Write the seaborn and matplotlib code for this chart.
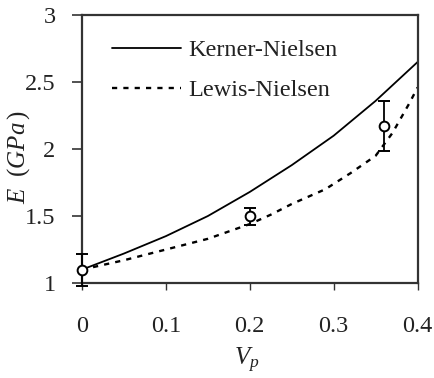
import matplotlib
matplotlib.use("Agg")
import matplotlib.pyplot as plt
import seaborn as sns
import numpy as np
import pandas as pd
from matplotlib.ticker import FixedLocator, FuncFormatter

# ---- data ----
vp_kn = [0.0, 0.05, 0.1, 0.15, 0.2, 0.25, 0.3, 0.35, 0.4]
e_kn = [1.10, 1.22, 1.35, 1.50, 1.68, 1.88, 2.10, 2.36, 2.65]

vp_ln = [0.0, 0.05, 0.1, 0.15, 0.2, 0.225, 0.25, 0.29, 0.32, 0.35, 0.37, 0.39, 0.4]
e_ln = [1.10, 1.17, 1.25, 1.33, 1.44, 1.51, 1.59, 1.70, 1.82, 1.95, 2.12, 2.34, 2.46]

vp_exp = [0.0, 0.2, 0.36]
e_exp = [1.10, 1.50, 2.17]
err_low = [0.12, 0.065, 0.185]
err_high = [0.12, 0.06, 0.19]

xticks = [0, 0.1, 0.2, 0.3, 0.4]
yticks = [1, 1.5, 2, 2.5, 3]

sns.set_style("ticks")
plt.rcParams['font.family'] = ['Liberation Serif', 'DejaVu Serif']
plt.rcParams['mathtext.fontset'] = 'custom'
plt.rcParams['mathtext.it'] = 'Liberation Serif:italic'
plt.rcParams['mathtext.rm'] = 'Liberation Serif'

fig = plt.figure(figsize=(4.35, 3.78), dpi=100)
ax = fig.add_axes([0.1885, 0.2513, 0.7715, 0.7087])

df_kn = pd.DataFrame({"Vp": vp_kn, "E": e_kn})
df_ln = pd.DataFrame({"Vp": vp_ln, "E": e_ln})

sns.lineplot(data=df_kn, x="Vp", y="E", ax=ax, color="black", lw=1.3,
             label="Kerner-Nielsen")
sns.lineplot(data=df_ln, x="Vp", y="E", ax=ax, color="black", lw=1.7,
             linestyle=(0, (2.2, 2.6)), label="Lewis-Nielsen")

ax.errorbar(vp_exp, e_exp, yerr=[err_low, err_high], fmt='o', mfc='white',
            mec='black', ms=7, mew=1.4, ecolor='black', elinewidth=1.3,
            capsize=4.3, capthick=1.3, clip_on=False, zorder=5)

ax.set_xlim(0, 0.4)
ax.set_ylim(1, 3)
ax.xaxis.set_major_locator(FixedLocator(xticks))
ax.yaxis.set_major_locator(FixedLocator(yticks))
fmt = FuncFormatter(lambda v, p: f"{v:g}")
ax.xaxis.set_major_formatter(fmt)
ax.yaxis.set_major_formatter(fmt)

ax.tick_params(axis='x', direction='out', length=5, width=1, pad=19,
               labelsize=17.5, colors='#333333', labelcolor='#222222')
ax.tick_params(axis='y', direction='out', length=7, width=1.2, pad=12,
               labelsize=17.5, colors='#333333', labelcolor='#222222')
for s in ax.spines.values():
    s.set_visible(True)
    s.set_linewidth(1.6)
    s.set_color('#333333')

ax.set_xlabel("$V_p$", fontsize=18, color='#222222')
ax.set_ylabel("$E\\ \\ (GPa\\,)$", fontsize=18, color='#222222')
ax.xaxis.set_label_coords(0.49, -0.235)
ax.yaxis.set_label_coords(-0.15, 0.47)

leg = ax.legend(loc='upper left', frameon=False, fontsize=17.5,
                handlelength=2.85, handletextpad=0.28, labelspacing=0.75,
                borderpad=0, borderaxespad=0,
                bbox_to_anchor=(0.089, 0.91))
for t in leg.get_texts():
    t.set_color('#222222')

fig.savefig("out.png", dpi=100)
